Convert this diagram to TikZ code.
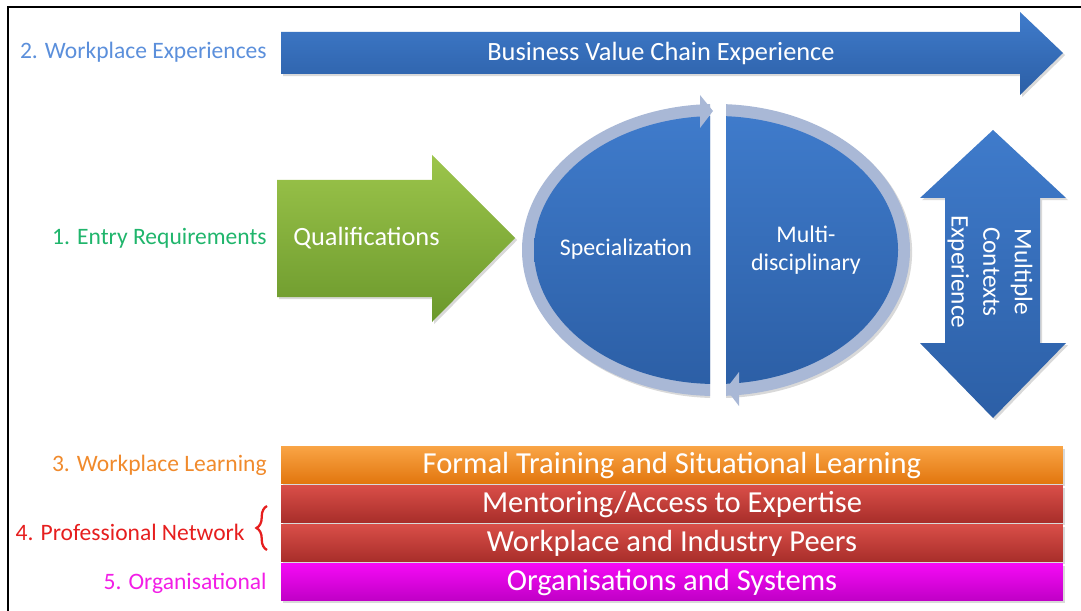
\documentclass[tikz,border=0pt]{standalone}
\usepackage{fontspec}
\setmainfont{Carlito}
\usepackage{tikz}
\usetikzlibrary{calc,shadows,decorations.pathreplacing}
\definecolor{clValue}{HTML}{3F7BCB}
\definecolor{clValueDk}{HTML}{2C5FA6}
\definecolor{clQual}{HTML}{9CC54B}
\definecolor{clQualDk}{HTML}{6B982C}
\definecolor{clRing}{HTML}{A9B8D6}
\definecolor{clTrain}{HTML}{F9A445}
\definecolor{clTrainDk}{HTML}{E2760E}
\definecolor{clNet}{HTML}{D94E48}
\definecolor{clNetDk}{HTML}{A82E2A}
\definecolor{clOrg}{HTML}{F50AF5}
\definecolor{clOrgDk}{HTML}{C000C6}
\definecolor{lbExp}{HTML}{5B8FDB}
\definecolor{lbEntry}{HTML}{20B56C}
\definecolor{lbLearn}{HTML}{F08A2C}
\definecolor{lbNet}{HTML}{E61E1E}
\definecolor{lbOrg}{HTML}{F21DE6}
\tikzset{
  shadowed/.style={drop shadow={shadow xshift=1.2pt, shadow yshift=-1.2pt, opacity=0.3}},
  blueshape/.style={shadowed, top color=clValue, bottom color=clValueDk},
  greenshape/.style={shadowed, top color=clQual, bottom color=clQualDk},
  lefttext/.style={anchor=east, inner sep=0pt, font=\fontsize{13.4}{15}\selectfont},
  intext/.style={text=white, align=center, font=\fontsize{15}{18}\selectfont},
  bar/.style={shadowed, minimum width=15.64cm, minimum height=0.74cm, inner sep=0pt,
              text=white, text height=2.4ex, text depth=0.3ex, font=\fontsize{17.4}{19}\selectfont},
}
\begin{document}
\begin{tikzpicture}[x=0.02cm, y=-0.02cm]
  \useasboundingbox (0,0) rectangle (1081,611);
  % frame
  \draw[line width=1.1pt] (8,611) -- (8,7) -- (1081,7);

  % top arrow
  \path[blueshape] (281,32) -- (1020,32) -- (1020,12) -- (1063,53) -- (1020,95)
    -- (1020,74) -- (281,74) -- cycle;
  \node[intext] (chain) at (661,53) {Business Value Chain Experience};
  \node[lefttext, text=lbExp] (lexp) at (267,52) {2. Workplace Experiences};

  % entry arrow
  \path[greenshape] (277,180) -- (432,180) -- (432,155) -- (515,238) -- (432,322)
    -- (432,297) -- (277,297) -- cycle;
  \node[intext, anchor=west, inner sep=0pt] (qual) at (293,238) {Qualifications};
  \node[lefttext, text=lbEntry] (lentry) at (267,238) {1. Entry Requirements};

  % circular arrow, left half
  \begin{scope}
    \clip (500,80) rectangle (710,420);
    \fill[clRing, shadowed] (716,250) ellipse [x radius=194, y radius=146];
    \shade[top color=clValue, bottom color=clValueDk] (716,250) ellipse [x radius=182, y radius=134];
  \end{scope}
  \fill[clRing] (700,95) -- (713,111) -- (700,128) -- cycle;
  % circular arrow, right half
  \begin{scope}
    \clip (726,80) rectangle (930,420);
    \fill[clRing, shadowed] (716,250) ellipse [x radius=194, y radius=146];
    \shade[top color=clValue, bottom color=clValueDk] (716,250) ellipse [x radius=182, y radius=134];
  \end{scope}
  \fill[clRing] (739,372) -- (726,389) -- (739,406) -- cycle;
  \node[intext, font=\fontsize{13.6}{16}\selectfont] (spec) at (626,249) {Specialization};
  \node[intext, font=\fontsize{13.6}{16}\selectfont] (multi) at (806,250) {Multi-\\disciplinary};

  % double arrow
  \path[blueshape] (993,130) -- (1066,198) -- (1040,198) -- (1040,343) -- (1066,343)
    -- (993,418) -- (920,343) -- (945,343) -- (945,198) -- (920,198) -- cycle;
  \node[intext, rotate=-90, font=\fontsize{14.4}{18}\selectfont] (ctx) at (990,272) {Multiple\\Contexts\\Experience};

  % bars
  \node[bar, top color=clTrain, bottom color=clTrainDk] (train) at (672,465) {Formal Training and Situational Learning};
  \node[bar, top color=clNet, bottom color=clNetDk] (mentor) at (672,504) {Mentoring/Access to Expertise};
  \node[bar, top color=clNet, bottom color=clNetDk] (peers) at (672,543) {Workplace and Industry Peers};
  \node[bar, top color=clOrg, bottom color=clOrgDk] (orgs) at (672,582) {Organisations and Systems};

  \node[lefttext, text=lbLearn] (llearn) at (267,465) {3. Workplace Learning};
  \node[lefttext, text=lbNet] (lnet) at (245,532) {4. Professional Network};
  \draw[lbNet, line width=1.3pt, decorate, decoration={brace, amplitude=6pt}]
    (267,550) -- (267,506);
  \node[lefttext, text=lbOrg] (lorg) at (267,583) {5. Organisational};
\end{tikzpicture}
\end{document}
